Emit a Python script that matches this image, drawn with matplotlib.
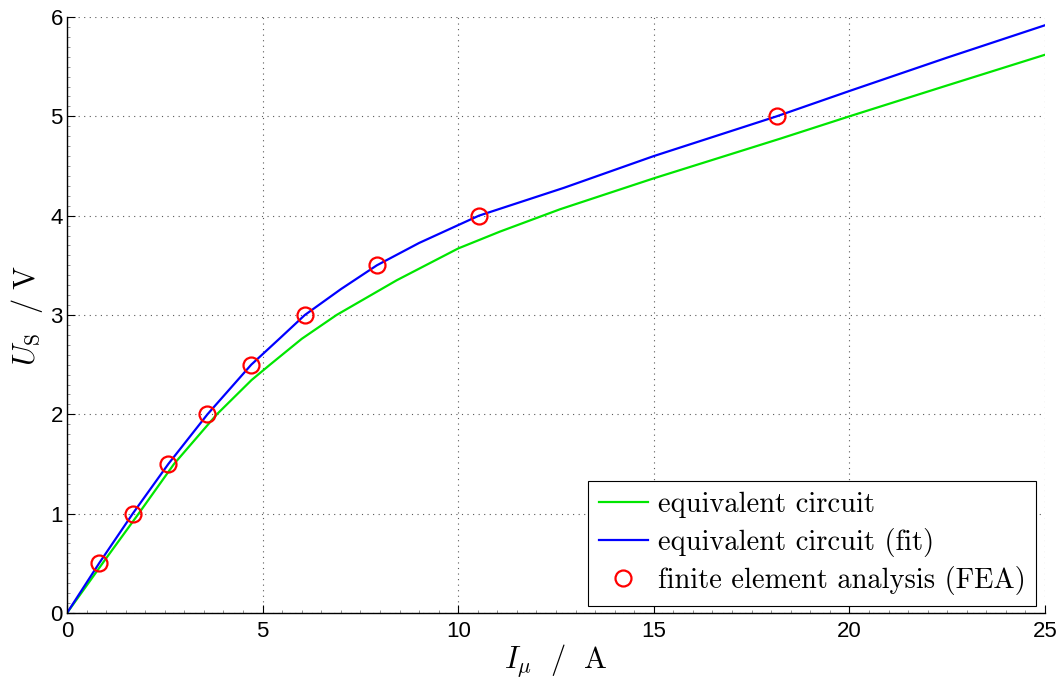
import numpy as np
import matplotlib
matplotlib.use("Agg")
import matplotlib.pyplot as plt
from matplotlib.ticker import MultipleLocator

# equivalent circuit (green)
ec_current = [0, 0.97, 1.83, 2.735, 3.83, 4.72, 5.19, 6.0, 6.89, 8.43, 10.0,
              11.07, 12.6, 15.0, 18.23, 20.0, 22.49, 25.0]
ec_voltage = [0, 0.534, 1.0, 1.5, 2.0, 2.346, 2.5, 2.76, 3.0, 3.35, 3.67,
              3.84, 4.064, 4.376, 4.775, 5.0, 5.31, 5.62]

# equivalent circuit, fitted (blue)
fit_current = [0, 0.82, 1.68, 2.59, 3.59, 4.71, 5.44, 6.08, 7.0, 7.92, 9.0, 10.0,
               10.53, 12.7, 15.0, 18.14, 20.0, 22.49, 25.0]
fit_voltage = [0, 0.5, 1.0, 1.5, 2.0, 2.5, 2.765, 3.0, 3.26, 3.5, 3.725, 3.905,
               4.0, 4.28, 4.60, 5.0, 5.255, 5.59, 5.917]

# finite element analysis (red circles)
fea_current = [0.82, 1.68, 2.59, 3.59, 4.71, 6.08, 7.92, 10.53, 18.14]
fea_voltage = [0.5, 1.0, 1.5, 2.0, 2.5, 3.0, 3.5, 4.0, 5.0]

plt.rcParams['mathtext.fontset'] = 'cm'
plt.rcParams['font.family'] = ['Liberation Sans', 'DejaVu Sans']

fig = plt.figure(figsize=(10.62, 6.82), dpi=100)
ax = fig.add_axes([67 / 1062, 69 / 682, 978 / 1062, 596 / 682])

ax.plot(ec_current, ec_voltage, color=(0, 0.9, 0), lw=1.6, label='equivalent circuit')
ax.plot(fit_current, fit_voltage, color=(0, 0, 1), lw=1.6, label='equivalent circuit (fit)')
ax.plot(fea_current, fea_voltage, 'o', mfc='none', mec=(1, 0, 0), mew=1.6, ms=11.5,
        label='finite element analysis (FEA)')

ax.set_xlim(0, 25)
ax.set_ylim(0, 6)
ax.xaxis.set_major_locator(MultipleLocator(5))
ax.yaxis.set_major_locator(MultipleLocator(1))
ax.xaxis.set_minor_locator(MultipleLocator(0.5))
ax.yaxis.set_minor_locator(MultipleLocator(0.1))
ax.tick_params(which='major', direction='in', length=6, width=0.8, labelsize=16)
ax.tick_params(axis='x', which='major', pad=6)
ax.tick_params(axis='y', which='major', pad=3)
ax.tick_params(which='minor', direction='in', length=2.5, width=0.5, color='0.4')

for side in ['top', 'right']:
    ax.spines[side].set_visible(False)
for side in ['left', 'bottom']:
    ax.spines[side].set_linewidth(1.0)

ax.grid(True, which='major', linestyle=(0, (1, 4)), color='0.35', lw=0.8)

ax.set_xlabel(r'$I_\mu\ \ /\ \ \mathrm{A}$', fontsize=22, labelpad=0)
ax.set_ylabel(r'$U_\mathrm{S}\ \ /\ \mathrm{V}$', fontsize=22, labelpad=4)

leg = ax.legend(loc='lower right', prop={'family': 'cmr10', 'size': 20.5},
                fancybox=False, framealpha=1, edgecolor='black', handlelength=1.7,
                borderpad=0.38, labelspacing=0.33, handletextpad=0.35,
                borderaxespad=0, bbox_to_anchor=(0.991, 0.0117))
leg.get_frame().set_linewidth(0.8)

fig.savefig('out.png', dpi=100)
